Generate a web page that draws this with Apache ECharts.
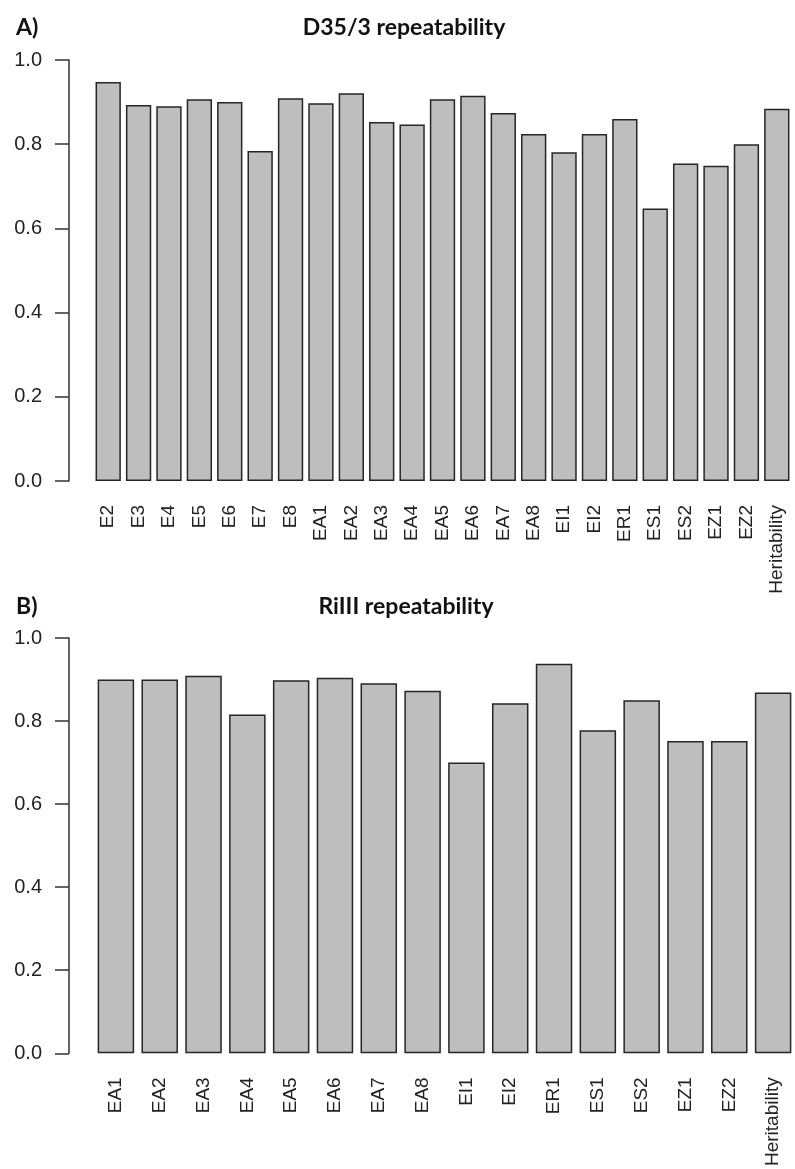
<!DOCTYPE html>
<html>
<head>
<meta charset="utf-8">
<script src="https://cdn.jsdelivr.net/npm/echarts@6/dist/echarts.min.js"></script>
<style>
html,body{margin:0;padding:0;background:#fff;}
#chart{width:795px;height:1169px;}
</style>
</head>
<body>
<div id="chart"></div>
<script>
// Panel A: D35/3 repeatability
const catsA = ['E2','E3','E4','E5','E6','E7','E8','EA1','EA2','EA3','EA4','EA5','EA6','EA7','EA8','EI1','EI2','ER1','ES1','ES2','EZ1','EZ2','Heritability'];
const valsA = [0.948,0.893,0.890,0.907,0.900,0.784,0.909,0.897,0.921,0.853,0.847,0.907,0.915,0.874,0.824,0.781,0.824,0.860,0.647,0.754,0.749,0.800,0.884];
// Panel B: RiIII repeatability
const catsB = ['EA1','EA2','EA3','EA4','EA5','EA6','EA7','EA8','EI1','EI2','ER1','ES1','ES2','EZ1','EZ2','Heritability'];
const valsB = [0.900,0.900,0.909,0.816,0.898,0.904,0.891,0.873,0.700,0.843,0.938,0.778,0.850,0.752,0.752,0.869];
const yTicks = [0, 0.2, 0.4, 0.6, 0.8, 1.0];
const titleA = 'D35/3 repeatability';
const titleB = 'RiIII repeatability';

const chart = echarts.init(document.getElementById('chart'), null, {renderer: 'canvas'});
const txtColor = '#222';
const labelFont = 'Liberation Sans, Arial, sans-serif';
const titleFont = 'bold 23px Lato, sans-serif';

function yAxis(idx, off) {
  return {
    type: 'value', gridIndex: idx, min: yTicks[0], max: yTicks[yTicks.length - 1], interval: 0.2,
    offset: off,
    axisLine: {show: true, lineStyle: {color: '#333', width: 1.5}},
    axisTick: {show: true, length: 14, lineStyle: {color: '#333', width: 1.5}},
    splitLine: {show: false},
    axisLabel: {margin: 27, color: txtColor, fontSize: 20, fontFamily: labelFont,
      formatter: v => v.toFixed(1)}
  };
}
function xAxis(idx, cats) {
  return {
    type: 'category', gridIndex: idx, data: cats,
    axisLine: {show: false}, axisTick: {show: false},
    axisLabel: {rotate: 90, margin: 24, color: txtColor, fontSize: 19, fontFamily: labelFont, interval: 0}
  };
}
function barSeries(idx, vals) {
  return {
    type: 'bar', xAxisIndex: idx, yAxisIndex: idx, data: vals,
    barCategoryGap: '16.7%',
    itemStyle: {color: '#bebebe', borderColor: '#262626', borderWidth: 1.5},
    silent: true
  };
}

chart.setOption({
  animation: false,
  backgroundColor: '#ffffff',
  grid: [
    {left: 93, top: 60, width: 699, height: 421},
    {left: 94, top: 638, width: 702, height: 421}
  ],
  xAxis: [xAxis(0, catsA), xAxis(1, catsB)],
  yAxis: [yAxis(0, 24), yAxis(1, 25)],
  series: [barSeries(0, valsA), barSeries(1, valsB)],
  graphic: [
    {type: 'text', x: 16, y: 28, style: {text: 'A)', fill: '#111', font: titleFont, textVerticalAlign: 'middle'}},
    {type: 'text', x: 404, y: 28, style: {text: titleA, fill: '#111', font: titleFont, textAlign: 'center', textVerticalAlign: 'middle'}},
    {type: 'text', x: 16, y: 607, style: {text: 'B)', fill: '#111', font: titleFont, textVerticalAlign: 'middle'}},
    {type: 'text', x: 406, y: 607, style: {text: titleB, fill: '#111', font: titleFont, textAlign: 'center', textVerticalAlign: 'middle'}}
  ]
});
</script>
</body>
</html>
